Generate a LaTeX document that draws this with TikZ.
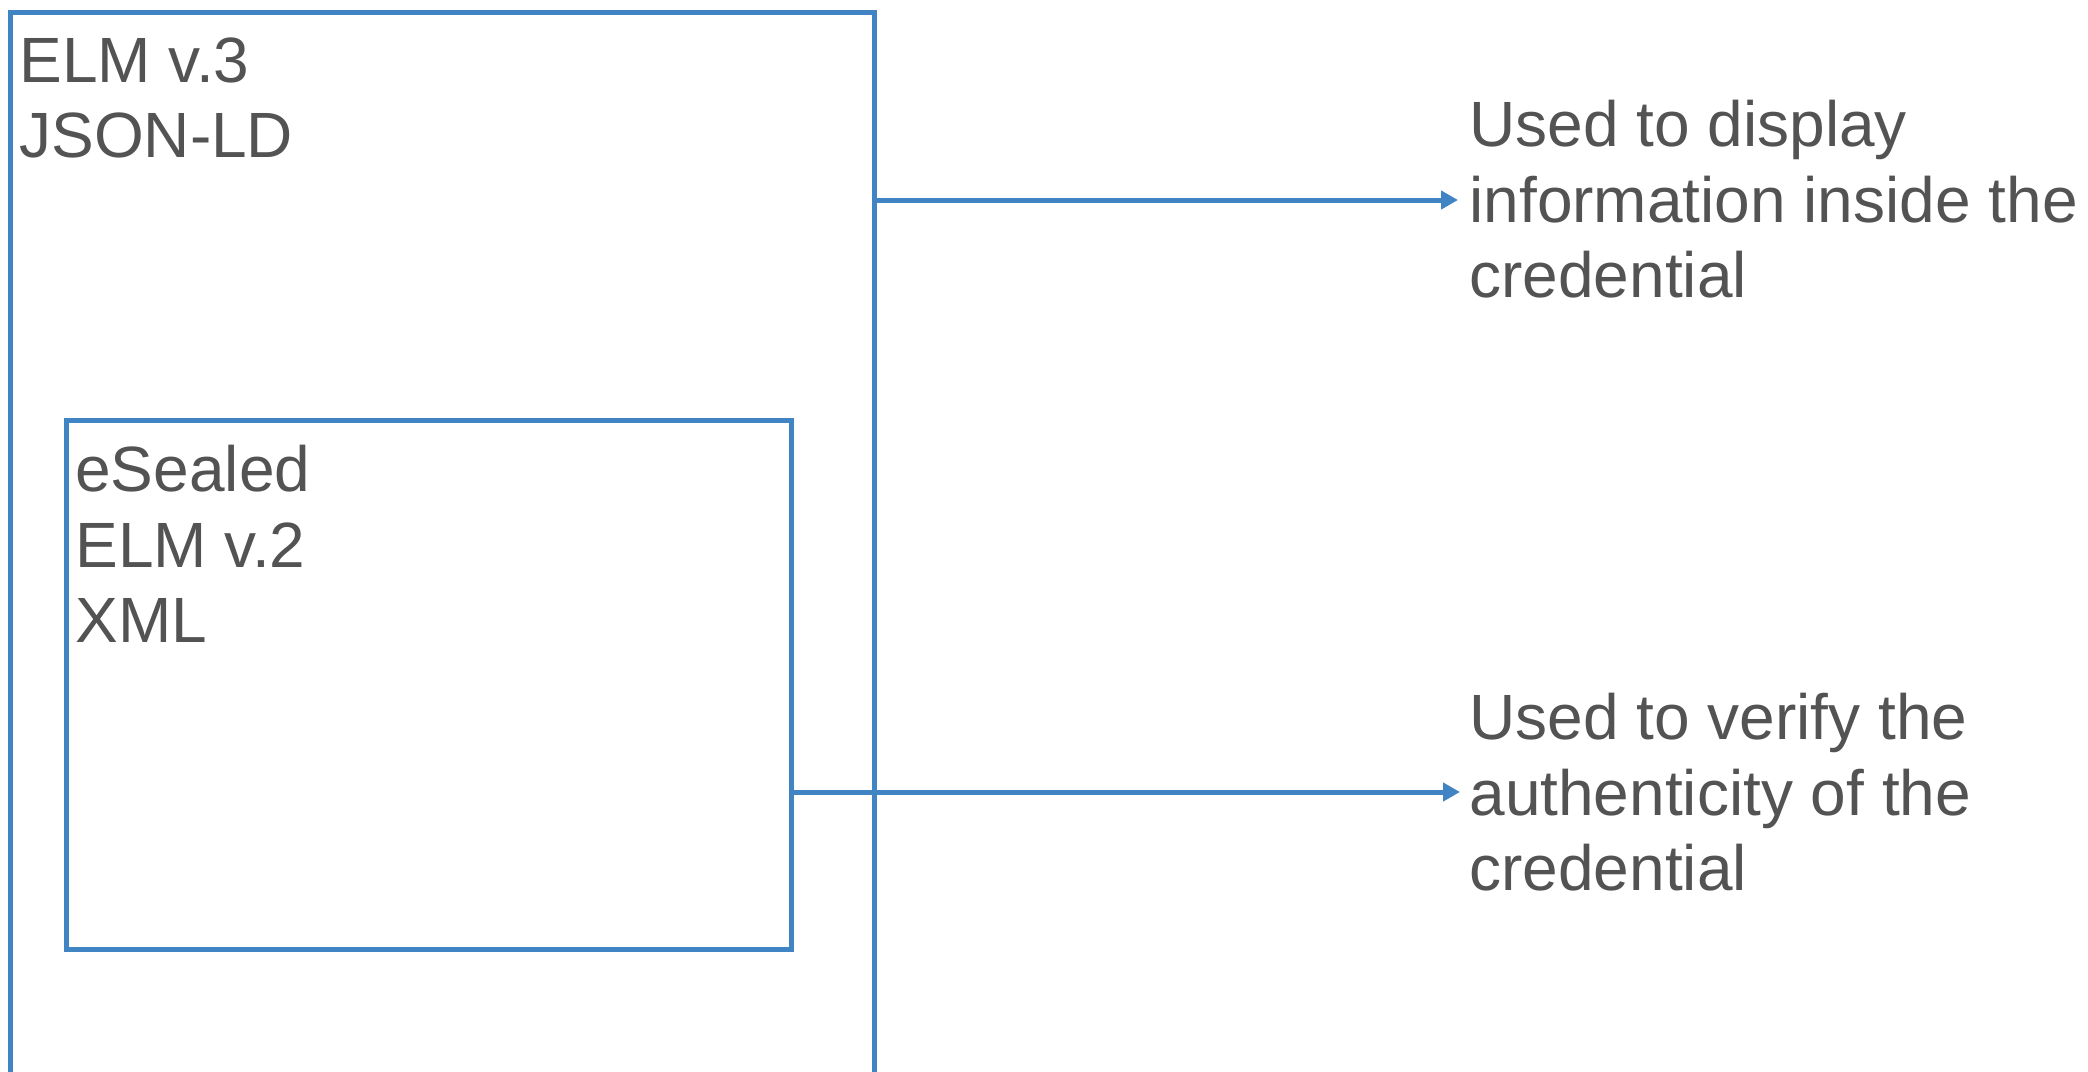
\documentclass[tikz,border=0pt]{standalone}
\usepackage{fontspec}
\setmainfont{Liberation Sans}
\usetikzlibrary{arrows.meta}
\definecolor{boxblue}{RGB}{64,132,196}
\definecolor{txtgray}{RGB}{83,83,83}
\begin{document}
\begin{tikzpicture}[x=0.5pt,y=-0.5pt,
  frame/.style={draw=boxblue, line width=2.6pt, line join=miter, inner sep=0pt, anchor=north west},
  txt/.style={font=\fontsize{32}{37.75}\selectfont, text=txtgray, align=left, anchor=north west, inner sep=0pt},
  link/.style={draw=boxblue, line width=2.5pt, -{Triangle[length=8.5pt,width=9pt]}}]
\useasboundingbox (0,0) rectangle (2088,1071);
\clip (0,0) rectangle (2088,1071);
% outer box (continues below the picture edge)
\node[frame, minimum width=432pt, minimum height=550pt] (outer) at (8,10) {};
% inner box
\node[frame, minimum width=362.5pt, minimum height=264.5pt] (inner) at (64,418) {};
% texts
\node[txt] (elm3) at (19,37) {ELM v.3\\JSON-LD};
\node[txt] (elm2) at (75,445) {eSealed\\ELM v.2\\XML};
\node[txt] (disp) at (1469,100) {Used to display\\information inside the\\credential};
\node[txt] (verif) at (1469,693) {Used to verify the\\authenticity of the\\credential};
% connectors
\coordinate (s1) at ([yshift=-95pt]outer.north east);
\coordinate (s2) at ([yshift=-187pt]inner.north east);
\coordinate (e1) at (1458,200);
\coordinate (e2) at (1460,792);
\draw[link] (s1) -- (e1);
\draw[link] (s2) -- (e2);
\end{tikzpicture}
\end{document}
